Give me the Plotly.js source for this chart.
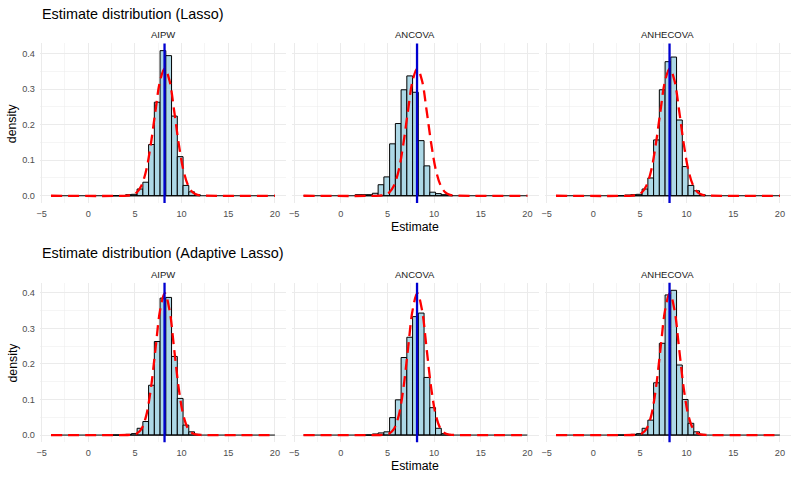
<!DOCTYPE html>
<html>
<head>
<meta charset="utf-8">
<script src="https://cdn.plot.ly/plotly-3.0.1.min.js"></script>
<style>html,body{margin:0;padding:0;background:#fff}</style>
</head>
<body>
<div id="chart" style="width:797px;height:478px"></div>
<script>
// facets and rows
const methods = ['AIPW', 'ANCOVA', 'ANHECOVA'];
const rowTitles = ['Estimate distribution (Lasso)', 'Estimate distribution (Adaptive Lasso)'];

// histogram bins: left edge of bin 0, bin width, first stored bin index
const binLeft = -4;
const binWidth = 0.6154;
const firstBin = 9;
const lastEdge = 20;

// densities of bins 9..25, per panel
const lassoAIPW     = [0, 0, 0, 0, 0.003, 0.004, 0.019, 0.038, 0.144, 0.263, 0.408, 0.394, 0.224, 0.110, 0.029, 0.011, 0.003];
const lassoANCOVA   = [0.003, 0.003, 0.003, 0.007, 0.031, 0.053, 0.146, 0.203, 0.298, 0.337, 0.291, 0.155, 0.084, 0.010, 0.006, 0.003, 0.001];
const lassoANHECOVA = [0, 0, 0, 0.002, 0.003, 0.004, 0.019, 0.050, 0.157, 0.298, 0.377, 0.390, 0.213, 0.082, 0.029, 0.014, 0.003];
const adaAIPW       = [0, 0, 0, 0, 0.002, 0.004, 0.019, 0.038, 0.140, 0.263, 0.385, 0.387, 0.221, 0.103, 0.028, 0.009, 0.002];
const adaANCOVA     = [0, 0, 0, 0.003, 0.006, 0.009, 0.049, 0.099, 0.218, 0.275, 0.333, 0.343, 0.162, 0.077, 0.019, 0.004, 0.001];
const adaANHECOVA   = [0, 0, 0, 0, 0.002, 0.004, 0.019, 0.042, 0.147, 0.258, 0.394, 0.407, 0.197, 0.100, 0.033, 0.009, 0.002];

// reference normal curves (red dashed)
const curveX       = [-4, 4.2, 4.7, 5.2, 5.7, 6.2, 6.7, 7.2, 7.7, 8.2, 8.7, 9.2, 9.7, 10.2, 10.7, 11.2, 11.7, 12.2, 20];
const lassoCurveY  = [0, 0.0006, 0.0026, 0.0095, 0.029, 0.071, 0.145, 0.239, 0.324, 0.358, 0.324, 0.239, 0.145, 0.071, 0.029, 0.0095, 0.0026, 0.0006, 0];
const adaCurveY    = [0, 0.0001, 0.0009, 0.0044, 0.0175, 0.054, 0.130, 0.242, 0.352, 0.399, 0.352, 0.242, 0.130, 0.054, 0.0175, 0.0044, 0.0009, 0.0001, 0];

// true value (blue line)
const trueValue = 8.17;

const xTicks = [-5, 0, 5, 10, 15, 20];
const yTicks = [0, 0.1, 0.2, 0.3, 0.4];

const rows = [
    { hist: [lassoAIPW, lassoANCOVA, lassoANHECOVA], curve: lassoCurveY },
    { hist: [adaAIPW, adaANCOVA, adaANHECOVA], curve: adaCurveY }
];

const W = 797, H = 478;
const px = x => x / W;
const py = y => 1 - y / H;

// panel geometry in pixels
const colLeft = [39.8, 292.3, 544.8];
const panelW = 246.3;
const rowTop = [43.4, 282.7];
const panelH = 159.6;

const font = 'Liberation Sans, Arial, sans-serif';
const gridCol = '#EBEBEB';

const traces = [];
const shapes = [];
const annotations = [];
const layout = {
    width: W,
    height: H,
    margin: { l: 0, r: 0, t: 0, b: 0 },
    paper_bgcolor: '#fff',
    plot_bgcolor: 'rgba(0,0,0,0)',
    showlegend: false,
    font: { family: font, color: '#4D4D4D' }
};

rows.forEach((row, r) => {
    row.hist.forEach((vals, c) => {
        const n = r * 3 + c + 1;
        const xa = 'x' + (n === 1 ? '' : n);
        const ya = 'y' + (n === 1 ? '' : n);

        const centers = vals.map((_, i) => binLeft + (firstBin + i + 0.5) * binWidth);

        // zero-count bins show as a flat black baseline
        traces.push({
            type: 'scatter', mode: 'lines',
            x: [binLeft, lastEdge], y: [0, 0],
            xaxis: xa, yaxis: ya,
            line: { color: '#000', width: 1 },
            hoverinfo: 'skip'
        });
        traces.push({
            type: 'bar',
            x: centers, y: vals,
            width: binWidth,
            xaxis: xa, yaxis: ya,
            marker: { color: '#ADD8E6', line: { color: '#000', width: 1 } }
        });
        traces.push({
            type: 'scatter', mode: 'lines',
            x: curveX, y: row.curve,
            xaxis: xa, yaxis: ya,
            line: { color: '#FF0000', width: 2.3, dash: '11px,6px', shape: 'spline', smoothing: 1 }
        });

        shapes.push({
            type: 'line', xref: xa, yref: ya + ' domain',
            x0: trueValue, x1: trueValue, y0: 0, y1: 1,
            line: { color: '#0000D0', width: 2.3 },
            layer: 'above'
        });

        const left = colLeft[c], top = rowTop[r];
        layout['xaxis' + (n === 1 ? '' : n)] = {
            domain: [px(left), px(left + panelW)],
            anchor: ya,
            range: [-5.2, 21.2],
            tickvals: xTicks,
            ticktext: xTicks.map(v => v < 0 ? '\u2212' + Math.abs(v) : String(v)),
            ticks: 'outside', ticklen: 2, tickcolor: 'rgba(0,0,0,0)',
            tickfont: { size: 9.2, color: '#4D4D4D', family: font },
            showgrid: true, gridcolor: gridCol, gridwidth: 1,
            minor: { dtick: 2.5, tick0: -5, showgrid: true, gridcolor: gridCol, gridwidth: 0.5 },
            zeroline: false, showline: false, fixedrange: true
        };
        layout['yaxis' + (n === 1 ? '' : n)] = {
            domain: [py(top + panelH), py(top)],
            anchor: xa,
            range: [-0.0204, 0.4284],
            tickvals: yTicks,
            ticktext: yTicks.map(v => v.toFixed(1)),
            showticklabels: c === 0,
            ticks: 'outside', ticklen: 2, tickcolor: 'rgba(0,0,0,0)',
            tickfont: { size: 9.2, color: '#4D4D4D', family: font },
            showgrid: true, gridcolor: gridCol, gridwidth: 1,
            minor: { dtick: 0.05, tick0: 0, showgrid: true, gridcolor: gridCol, gridwidth: 0.5 },
            zeroline: false, showline: false, fixedrange: true
        };

        // strip label
        annotations.push({
            text: methods[c], xref: 'paper', yref: 'paper',
            x: px(left + panelW / 2), y: py(top - 8.5),
            xanchor: 'center', yanchor: 'middle', showarrow: false,
            font: { size: 9.5, color: '#1A1A1A', family: font }
        });
    });

    // row title
    annotations.push({
        text: rowTitles[r], xref: 'paper', yref: 'paper',
        x: px(colLeft[0]), y: py(rowTop[r] - 29.5),
        xanchor: 'left', yanchor: 'middle', showarrow: false,
        font: { size: 14.4, color: '#000', family: font }
    });
    // x axis title
    annotations.push({
        text: 'Estimate', xref: 'paper', yref: 'paper',
        x: px(colLeft[1] + panelW / 2), y: py(rowTop[r] + panelH + 23.5),
        xanchor: 'center', yanchor: 'middle', showarrow: false,
        font: { size: 12.3, color: '#000', family: font }
    });
    // y axis title
    annotations.push({
        text: 'density', xref: 'paper', yref: 'paper',
        x: px(12), y: py(rowTop[r] + panelH / 2),
        xanchor: 'center', yanchor: 'middle', showarrow: false, textangle: -90,
        font: { size: 12.3, color: '#000', family: font }
    });
});

layout.shapes = shapes;
layout.annotations = annotations;
layout.bargap = 0;

Plotly.newPlot('chart', traces, layout, { displayModeBar: false, staticPlot: true });
</script>
</body>
</html>
